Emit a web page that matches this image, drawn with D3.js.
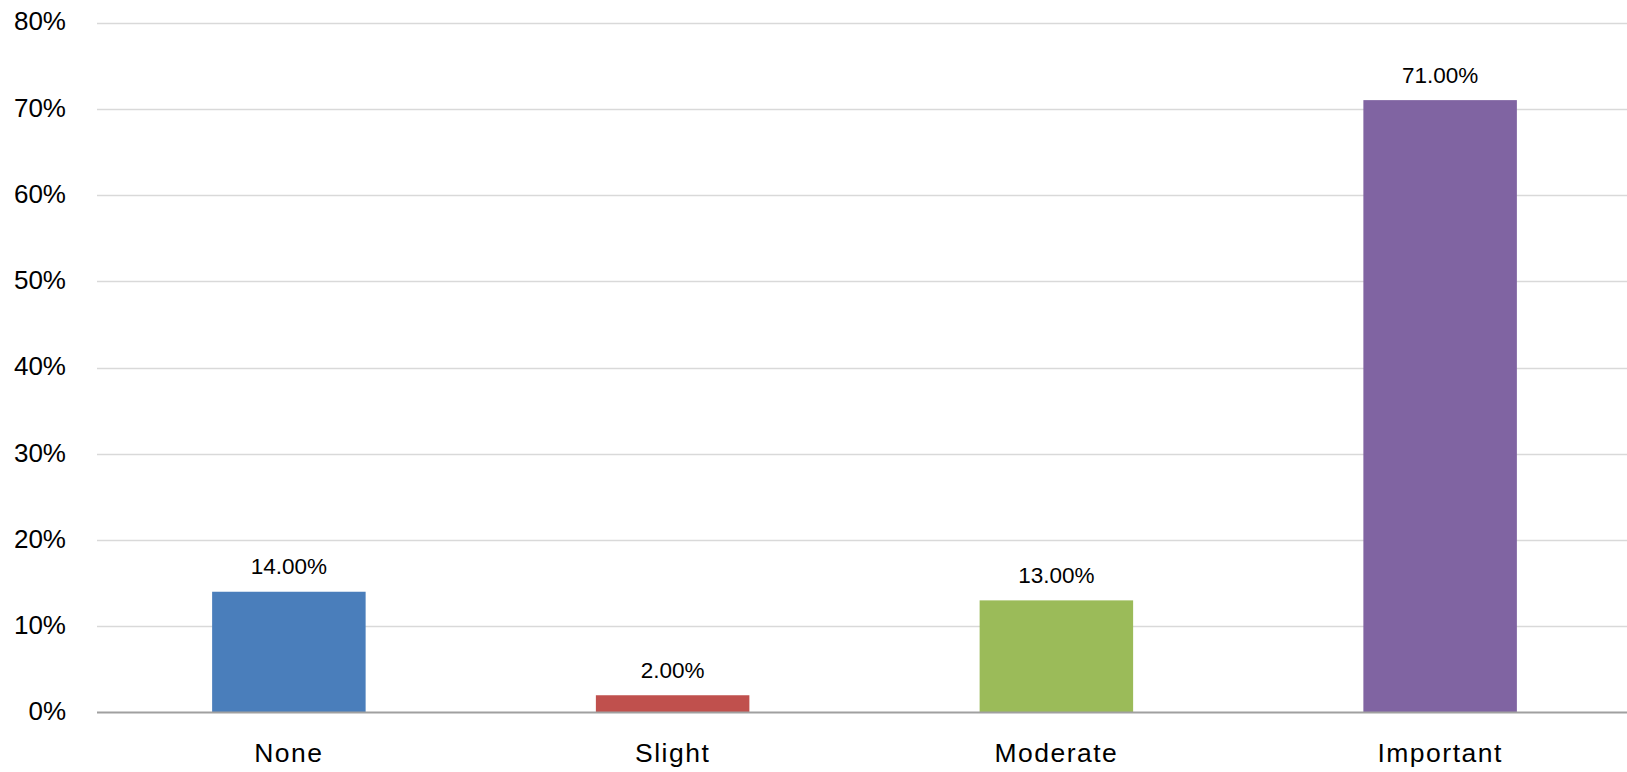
<!DOCTYPE html>
<html>
<head>
<meta charset="utf-8">
<script src="https://cdn.jsdelivr.net/npm/d3@7"></script>
<style>
  html, body { margin: 0; padding: 0; background: #ffffff; }
  svg { display: block; }
  text { font-family: "Liberation Sans", Arial, sans-serif; fill: #000; }
</style>
</head>
<body>
<svg id="chart" width="1627" height="772"></svg>
<script>
// Response categories and their shares
const categories = ["None", "Slight", "Moderate", "Important"];
const shares = [0.14, 0.02, 0.13, 0.71];
const barColors = ["#4A7EBB", "#C0504D", "#9BBB59", "#8064A2"];
const yTicks = [0, 0.1, 0.2, 0.3, 0.4, 0.5, 0.6, 0.7, 0.8];

const svg = d3.select("#chart");
const plot = { left: 97, right: 1632, top: 22.5, bottom: 712.5 };

const x = d3.scaleBand()
  .domain(categories)
  .range([plot.left, plot.right])
  .paddingInner(0.6)
  .paddingOuter(0.3);

const y = d3.scaleLinear()
  .domain([0, 0.8])
  .range([plot.bottom, plot.top]);

// Horizontal gridlines
svg.append("g")
  .selectAll("line")
  .data(yTicks.filter(t => t > 0))
  .join("line")
  .attr("x1", plot.left)
  .attr("x2", plot.right)
  .attr("y1", d => Math.round(y(d)) + 0.5)
  .attr("y2", d => Math.round(y(d)) + 0.5)
  .attr("stroke", "#D9D9D9")
  .attr("stroke-width", 1.5);

// Y axis tick labels
const yAxis = d3.axisLeft(y)
  .tickValues(yTicks)
  .tickFormat(d3.format(".0%"))
  .tickSize(0)
  .tickPadding(0);
const yg = svg.append("g")
  .attr("transform", `translate(66,0)`)
  .call(yAxis);
yg.select(".domain").remove();
yg.selectAll("text")
  .attr("font-family", "Liberation Sans, Arial, sans-serif")
  .attr("font-size", 26)
  .attr("fill", "#000")
  .attr("dy", "0.28em");

// Bars
svg.append("g")
  .selectAll("rect")
  .data(categories)
  .join("rect")
  .attr("x", d => x(d))
  .attr("width", x.bandwidth())
  .attr("y", (d, i) => y(shares[i]))
  .attr("height", (d, i) => y(0) - y(shares[i]))
  .attr("fill", (d, i) => barColors[i]);

// Value labels above bars
svg.append("g")
  .selectAll("text")
  .data(categories)
  .join("text")
  .attr("x", d => x(d) + x.bandwidth() / 2)
  .attr("y", (d, i) => y(shares[i]) - 17.5)
  .attr("text-anchor", "middle")
  .attr("font-size", 22.5)
  .text((d, i) => d3.format(".2%")(shares[i]));

// Baseline
svg.append("line")
  .attr("x1", plot.left)
  .attr("x2", plot.right)
  .attr("y1", y(0))
  .attr("y2", y(0))
  .attr("stroke", "#A0A0A0")
  .attr("stroke-width", 2);

// Category labels
const xAxis = d3.axisBottom(x).tickSize(0).tickPadding(0);
const xg = svg.append("g")
  .attr("transform", `translate(0,${y(0)})`)
  .call(xAxis);
xg.select(".domain").remove();
xg.selectAll("text")
  .attr("font-family", "Liberation Sans, Arial, sans-serif")
  .attr("font-size", 26.5)
  .attr("fill", "#000")
  .attr("letter-spacing", "1.5px")
  .attr("dy", null)
  .attr("y", 49.5);
</script>
</body>
</html>
